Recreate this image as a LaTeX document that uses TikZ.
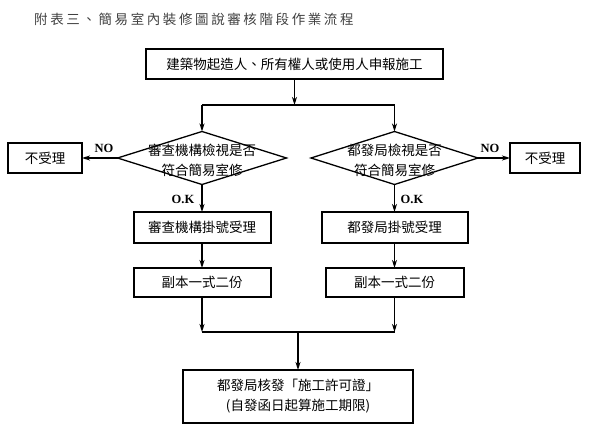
\documentclass[tikz,border=0pt]{standalone}
\usepackage{fontspec}
\setmainfont{Liberation Serif}
\newfontfamily\cjk{Noto Sans CJK TC}
\def\spacedchars#1{\ifx#1\relax\else#1\kern2.6pt\expandafter\spacedchars\fi}
\usetikzlibrary{shapes.geometric,arrows.meta,calc}
\begin{document}
\begin{tikzpicture}[x=1pt,y=-1pt,
  box/.style={draw,line width=2pt,inner sep=0pt,outer sep=0pt,
    font=\cjk\fontsize{13.5}{20}\selectfont,align=center},
  decision/.style={draw,shape=diamond,line width=1.3pt,inner sep=0pt,outer sep=0pt,
    minimum width=#1,minimum height=53pt},
  dtext/.style={font=\cjk\fontsize{13.5}{20}\selectfont,align=center,inner sep=0pt},
  lbl/.style={font=\bfseries\fontsize{12.5}{14}\selectfont,inner sep=0pt},
  conn/.style={line width=1.3pt},
  arr/.style={conn,-{Stealth[length=8pt,width=5pt,inset=2.5pt]}}]
\useasboundingbox (0,0) rectangle (590,436);

\node[font=\cjk\fontsize{13.5}{15}\selectfont,text=black!75,anchor=west,inner sep=0pt]
  (title) at (34,19) {\spacedchars 附表三、簡易室內裝修圖說審核階段作業流程\relax};

\node[box,minimum width=297pt,minimum height=30pt] (top) at (294.5,64)
  {建築物起造人、所有權人或使用人申報施工};

\node[decision=169pt] (dL) at (202,158) {};
\node[dtext] (dLt) at (202,160) {審查機構檢視是否\\符合簡易室修};
\node[decision=167pt] (dR) at (394.5,158) {};
\node[dtext] (dRt) at (394.5,160) {都發局檢視是否\\符合簡易室修};

\node[box,minimum width=74pt,minimum height=30pt] (noL) at (45,158) {不受理};
\node[box,minimum width=70pt,minimum height=30pt] (noR) at (545,158) {不受理};

\node[box,minimum width=137pt,minimum height=31pt] (accL) at (202,227.5) {審查機構掛號受理};
\node[box,minimum width=146pt,minimum height=31pt] (accR) at (394.5,227.5) {都發局掛號受理};

\node[box,minimum width=137pt,minimum height=29pt] (copyL) at (202,282.5) {副本一式二份};
\node[box,minimum width=138pt,minimum height=29pt] (copyR) at (394.5,282.5) {副本一式二份};

\node[box,minimum width=230pt,minimum height=53pt] (final) at (298,396.5)
  {都發局核發「施工許可證」\\(自發函日起算施工期限)};

\coordinate (j1) at (294.5,105);
\coordinate (j1L) at (202,105);
\coordinate (j1R) at (394.5,105);
\coordinate (j2L) at (202,332);
\coordinate (j2R) at (394.5,332);
\coordinate (j2) at (298,332);

\draw[arr] (top.south) -- (j1);
\draw[conn] (j1L) -- (j1R);
\draw[arr] (j1L) -- (dL.north);
\draw[arr] (j1R) -- (dR.north);

\draw[arr] (dL.west) -- (noL.east);
\draw[arr] (dR.east) -- (noR.west);
\node[lbl] (noLbl) at (104,148) {NO};
\node[lbl] (noRbl) at (490,148) {NO};

\draw[arr] (dL.south) -- (accL.north);
\draw[arr] (dR.south) -- (accR.north);
\node[lbl] (okL) at (183,199) {O.K};
\node[lbl] (okR) at (412,199) {O.K};

\draw[arr] (accL.south) -- (copyL.north);
\draw[arr] (accR.south) -- (copyR.north);

\draw[arr] (copyL.south) -- (j2L);
\draw[arr] (copyR.south) -- (j2R);
\draw[conn] (j2L) -- (j2R);
\draw[arr] (j2) -- (final.north);
\end{tikzpicture}
\end{document}
